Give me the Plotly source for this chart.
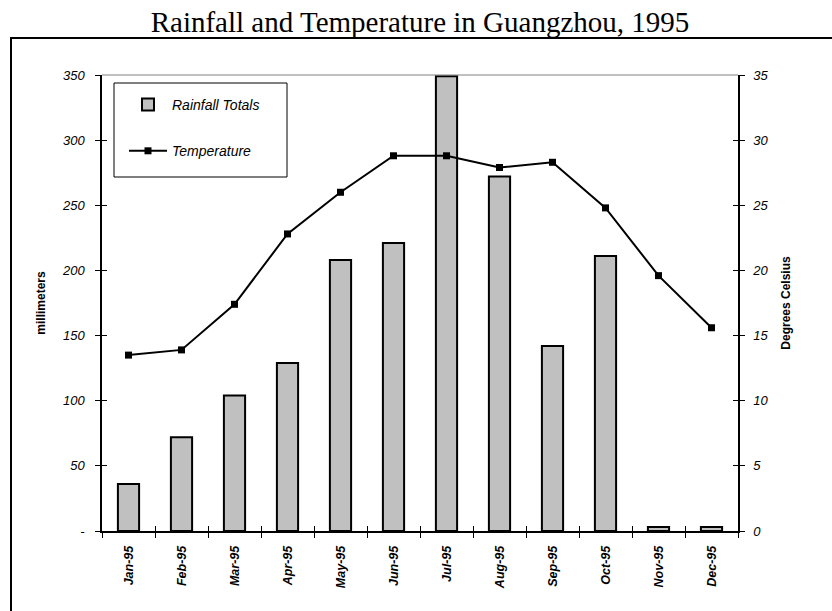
import plotly.graph_objects as go

# Monthly climate data for Guangzhou, 1995
months = ["Jan-95", "Feb-95", "Mar-95", "Apr-95", "May-95", "Jun-95",
          "Jul-95", "Aug-95", "Sep-95", "Oct-95", "Nov-95", "Dec-95"]
rainfall_mm = [36, 72, 104, 129, 208, 221, 349, 272, 142, 211, 3, 3]
temperature_c = [13.5, 13.9, 17.4, 22.8, 26.0, 28.8, 28.8, 27.9, 28.3, 24.8, 19.6, 15.6]

rain_ticks = [0, 50, 100, 150, 200, 250, 300, 350]
rain_tick_text = ["-", "50", "100", "150", "200", "250", "300", "350"]
temp_ticks = [0, 5, 10, 15, 20, 25, 30, 35]

W, H = 832, 611
ML, MR, MT, MB = 102, 94, 75, 80
PW, PH = W - ML - MR, H - MT - MB


def px_x(p):
    """Page x pixel -> paper fraction."""
    return (p - ML) / PW


def px_y(p):
    """Page y pixel (from top) -> paper fraction."""
    return (H - MB - p) / PH


SANS = "Liberation Sans Narrow, Arial Narrow, Liberation Sans, Arial, sans-serif"
tick_font = dict(family=SANS, size=13, color="black", style="italic")
title_font = dict(family=SANS, size=12, color="black", weight="bold")

fig = go.Figure()

fig.add_trace(go.Bar(
    x=months, y=rainfall_mm, name="Rainfall Totals",
    marker=dict(color="#C0C0C0", line=dict(color="black", width=2)),
    width=0.4, legendgroup="rain",
))

fig.add_trace(go.Scatter(
    x=months, y=temperature_c, name="Temperature", yaxis="y2",
    mode="lines+markers",
    line=dict(color="black", width=2),
    marker=dict(symbol="square", size=7, color="black"),
    legendgroup="temp",
))

axis_line = dict(showline=True, linecolor="black", linewidth=1.5,
                 showgrid=False, zeroline=False)

fig.update_layout(
    width=W, height=H,
    margin=dict(l=ML, r=MR, t=MT, b=MB, autoexpand=False),
    paper_bgcolor="white", plot_bgcolor="white",
    showlegend=True,
    title=dict(
        text="Rainfall and Temperature in Guangzhou, 1995",
        font=dict(family="Liberation Serif, Times New Roman, serif", size=29, color="black"),
        x=0.5, xref="paper", xanchor="center",
        yref="container", y=1 - 22 / H, yanchor="middle",
    ),
    xaxis=dict(
        type="category", categoryorder="array", categoryarray=months,
        range=[-0.5, len(months) - 0.5],
        ticks="outside", ticklen=5, tickwidth=1, tickcolor="black",
        tickson="boundaries", tickangle=-90, ticklabelstandoff=8,
        tickfont=dict(family=SANS, size=12.5, color="black", style="italic", weight="bold"),
        **axis_line,
    ),
    yaxis=dict(
        range=[0, 350], tickvals=rain_ticks, ticktext=rain_tick_text,
        ticks="outside", ticklen=5, tickwidth=1, tickcolor="black",
        tickfont=tick_font, ticklabelstandoff=8,
        title=dict(text="millimeters", standoff=14, font=title_font),
        **axis_line,
    ),
    yaxis2=dict(
        range=[0, 35], tickvals=temp_ticks, overlaying="y", side="right",
        ticks="outside", ticklen=5, tickwidth=1, tickcolor="black",
        tickfont=tick_font, ticklabelstandoff=6,
        title=dict(text="Degrees Celsius", standoff=14, font=title_font),
        **axis_line,
    ),
    # inward halves of the crossing tick marks
    xaxis2=dict(
        overlaying="x", anchor="y", side="bottom", range=[-0.5, len(months) - 0.5],
        tickvals=[i - 0.5 for i in range(len(months) + 1)],
        ticks="inside", ticklen=5, tickwidth=1, tickcolor="black",
        showticklabels=False, showline=False, showgrid=False, zeroline=False,
    ),
    yaxis3=dict(
        overlaying="y", side="left", anchor="x", range=[0, 350], tickvals=rain_ticks,
        ticks="inside", ticklen=5, tickwidth=1, tickcolor="black",
        showticklabels=False, showline=False, showgrid=False, zeroline=False,
    ),
    yaxis4=dict(
        overlaying="y", side="right", anchor="x", range=[0, 35], tickvals=temp_ticks,
        ticks="inside", ticklen=5, tickwidth=1, tickcolor="black",
        showticklabels=False, showline=False, showgrid=False, zeroline=False,
    ),
    legend=dict(
        x=px_x(124), y=px_y(89), xanchor="left", yanchor="top",
        xref="paper", yref="paper",
        bgcolor="rgba(0,0,0,0)", borderwidth=0,
        font=dict(family=SANS, size=14, color="black", style="italic"),
        traceorder="grouped", tracegroupgap=25, itemwidth=38,
    ),
    shapes=[
        # plot-area top edge
        dict(type="line", xref="x domain", yref="y domain", x0=0, x1=1, y0=1, y1=1,
             line=dict(color="#808080", width=1)),
        # legend frame
        dict(type="rect", xref="paper", yref="paper",
             x0=px_x(114), x1=px_x(287), y0=px_y(177), y1=px_y(83),
             line=dict(color="black", width=1), fillcolor="white", layer="above"),
        # chart-area frame, running past the right and bottom edges of the page
        dict(type="rect", xref="paper", yref="paper",
             x0=px_x(11), x1=px_x(W + 10), y0=px_y(H + 10), y1=px_y(38),
             line=dict(color="black", width=2), fillcolor="rgba(0,0,0,0)", layer="below"),
    ],
)

# placeholder traces so the overlay tick axes are laid out
for xa, ya in [("x2", "y"), ("x", "y3"), ("x", "y4")]:
    fig.add_trace(go.Scatter(x=[None], y=[None], xaxis=xa, yaxis=ya,
                             showlegend=False, hoverinfo="skip"))

fig.write_html("out.html")
